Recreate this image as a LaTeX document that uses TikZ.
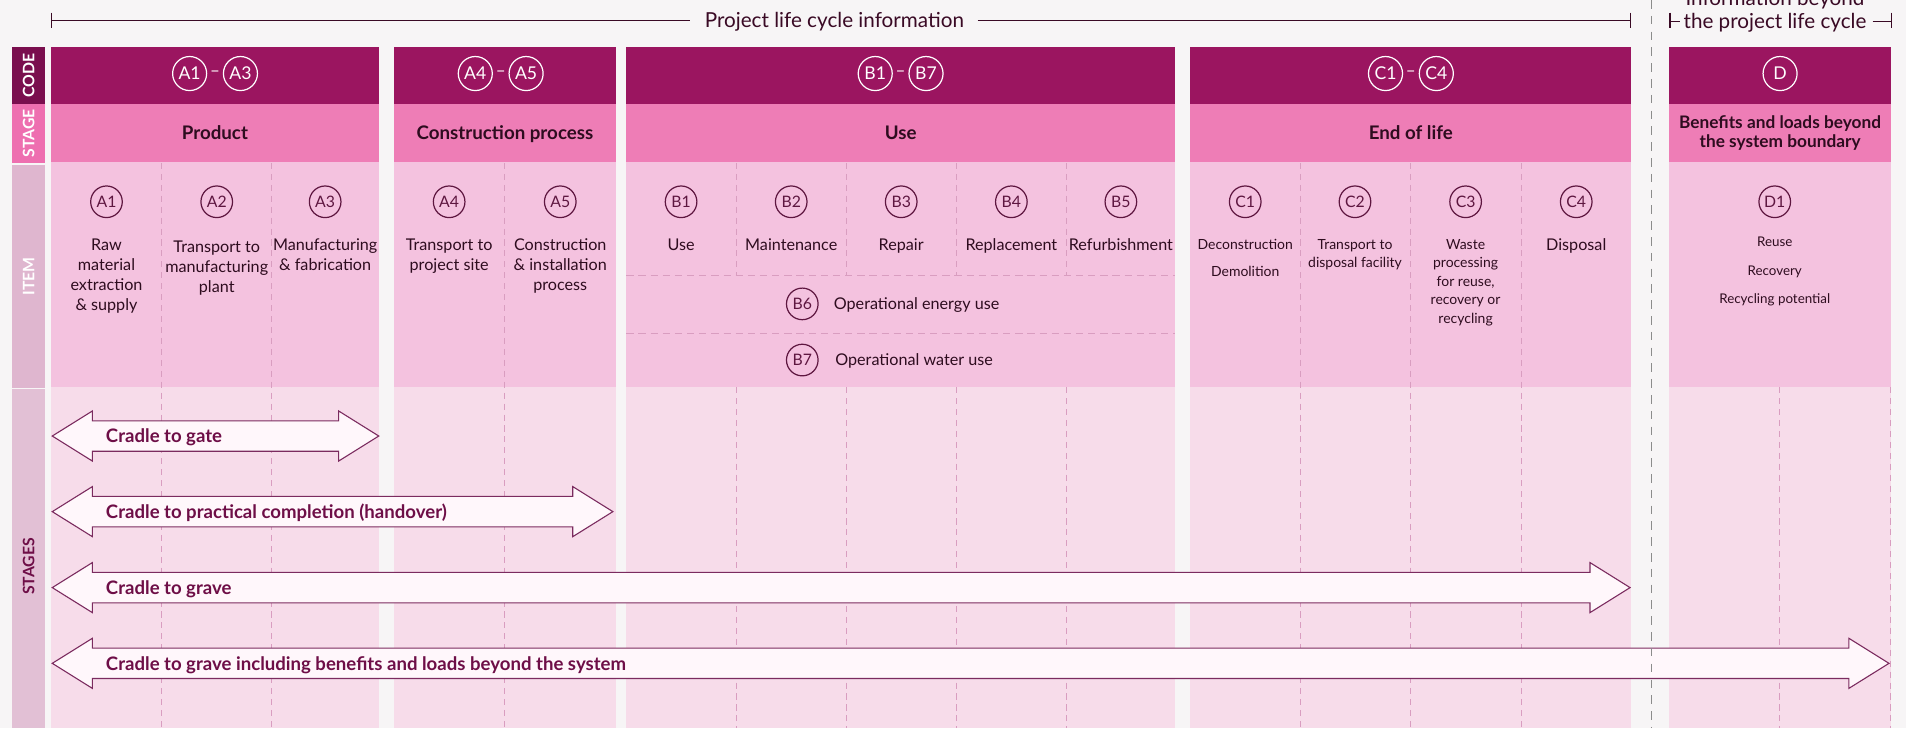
\documentclass[tikz,border=0pt]{standalone}
\usepackage{fontspec}
\setmainfont{Lato}
\usetikzlibrary{calc}

\definecolor{pagebg}{HTML}{F7F5F6}
\definecolor{codedark}{HTML}{7A0E4E}
\definecolor{coderow}{HTML}{9B1560}
\definecolor{stagerow}{HTML}{EE7DB6}
\definecolor{stagelabel}{HTML}{EE6FB0}
\definecolor{itemrow}{HTML}{F4C2DF}
\definecolor{itemlabel}{HTML}{DFB6CF}
\definecolor{stagesrow}{HTML}{F7DCEA}
\definecolor{stageslabel}{HTML}{E2C0D5}
\definecolor{ink}{HTML}{2E0C1F}
\definecolor{plum}{HTML}{6E0E47}
\definecolor{ringink}{HTML}{5E1640}
\definecolor{arrowfill}{HTML}{FFF7FB}
\definecolor{arrowline}{HTML}{7B2B5F}
\definecolor{divider}{HTML}{D99DC0}
\definecolor{boundary}{HTML}{8C8C8C}
\definecolor{rule}{HTML}{3A0A25}

% one coloured panel: code, stage, item and stages rows
\newcommand\lcapanel[2]{%
  \fill[coderow]   (#1,38.9)  rectangle (#2,85.6);
  \fill[stagerow]  (#1,85.6)  rectangle (#2,133.5);
  \fill[itemrow]   (#1,133.5) rectangle (#2,318.5);
  \fill[stagesrow] (#1,318.5) rectangle (#2,599);}
% dashed column divider
\newcommand\coldiv[3]{\draw[divline] (#1,#2) -- (#1,#3);}
% double-headed block arrow: left tip x, right tip x, centre y
\newcommand\stagearrow[3]{%
  \draw[arrowbody] (#1,#3) -- (#1+33,#3-20.6) -- (#1+33,#3-12.5)
    -- (#2-33,#3-12.5) -- (#2-33,#3-20.6) -- (#2,#3)
    -- (#2-33,#3+20.6) -- (#2-33,#3+12.5) -- (#1+33,#3+12.5)
    -- (#1+33,#3+20.6) -- cycle;}

\begin{document}
\begin{tikzpicture}[x=1pt,y=-1pt,
  codering/.style={circle, draw=white, line width=1pt, text=white,
    minimum size=28pt, inner sep=0pt, font=\fontsize{14.5}{14.5}\selectfont},
  itemring/.style={circle, draw=ringink, line width=1pt, text=ringink,
    minimum size=26pt, inner sep=0pt, font=\fontsize{13}{13}\selectfont},
  codedash/.style={text=white, inner sep=0pt, font=\fontsize{14}{14}\selectfont},
  stagetitle/.style={text=ink, inner sep=0pt, anchor=base,
    font=\bfseries\fontsize{15.4}{16}\selectfont},
  itemtext/.style={text=ink, align=center, inner sep=0pt, anchor=north,
    font=\fontsize{13.3}{16.5}\selectfont},
  smalltext/.style={text=ink, align=center, inner sep=0pt, anchor=north,
    font=\fontsize{11.5}{15.2}\selectfont},
  sidelabel/.style={rotate=90, inner sep=0pt, font=\bfseries\fontsize{13}{13}\selectfont},
  arrowlabel/.style={text=plum, inner sep=0pt, anchor=base west,
    font=\bfseries\fontsize{15.3}{15.3}\selectfont},
  bracketlabel/.style={text=rule, inner sep=0pt, anchor=base,
    font=\fontsize{17}{17}\selectfont},
  divline/.style={draw=divider, line width=0.8pt, dash pattern=on 5pt off 4pt},
  arrowbody/.style={fill=arrowfill, draw=arrowline, line width=0.9pt, line join=miter},
  bracket/.style={draw=rule, line width=0.9pt},
]
\useasboundingbox (0,0) rectangle (1568,599);
\clip (0,0) rectangle (1568,599);
\fill[pagebg] (0,0) rectangle (1568,599);

% ---- side labels -------------------------------------------------
\fill[codedark]    (10,38.9)  rectangle (37,85.6);
\fill[stagelabel]  (10,85.6)  rectangle (37,133.8);
\fill[itemlabel]   (10,135.7) rectangle (37,318.9);
\fill[stageslabel] (10,320)   rectangle (37,599);
\node[sidelabel, text=white] (lblcode)   at (23.5,62.2)  {CODE};
\node[sidelabel, text=white] (lblstage)  at (23.5,109.7) {STAGE};
\node[sidelabel, text=white] (lblitem)   at (23.5,227.3) {ITEM};
\node[sidelabel, text=plum]  (lblstages) at (23.5,466)   {STAGES};

% ---- panels ------------------------------------------------------
\lcapanel{42}{311.6}
\lcapanel{324}{506.8}
\lcapanel{515.2}{966.8}
\lcapanel{979.3}{1342}
\lcapanel{1373}{1555.8}

% ---- dividers ----------------------------------------------------
\foreach \x in {133.2,223.4,415}{\coldiv{\x}{134}{599}}
\foreach \x in {605.5,696.3,786.6,877.5}{\coldiv{\x}{134}{226.5}\coldiv{\x}{318.5}{599}}
\foreach \x in {1069.5,1160,1251.5}{\coldiv{\x}{134}{599}}
\foreach \x in {1464.3,1555.3}{\coldiv{\x}{318.5}{599}}
\draw[divline, dash pattern=on 6pt off 4pt] (515.2,226.5) -- (966.8,226.5);
\draw[divline, dash pattern=on 6pt off 4pt] (515.2,274) -- (966.8,274);

% ---- top brackets ------------------------------------------------
\coordinate (plcL) at (42,17);
\coordinate (plcR) at (1341.7,17);
\node[bracketlabel] (plc) at (686.4,22.5) {Project life cycle information};
\draw[bracket] (42,10.4) -- (42,23.3);
\draw[bracket] (1341.7,10.4) -- (1341.7,23.3);
\draw[bracket] (plcL) -- ($(plc.west |- plcL)+(-12,0)$);
\draw[bracket] ($(plc.east |- plcR)+(11,0)$) -- (plcR);

\coordinate (beyL) at (1373.8,17.4);
\coordinate (beyR) at (1556,17.4);
\node[bracketlabel] (bey1) at (1460.2,4.6) {Information beyond};
\node[bracketlabel] (bey2) at (1460.2,23.3) {the project life cycle};
\draw[bracket] (1373.8,10.4) -- (1373.8,23.3);
\draw[bracket] (1556,10.4) -- (1556,23.3);
\draw[bracket] (beyL) -- ($(bey2.west |- beyL)+(-3,0)$);
\draw[bracket] ($(bey2.east |- beyR)+(5,0)$) -- (beyR);

% ---- code row ----------------------------------------------------
\node[codering] (hA1) at (156,60.5) {A1};
\node[codering] (hA3) at (197.8,60.5) {A3};
\node[codedash] (dA) at ($(hA1)!0.5!(hA3)$) {–};
\node[codering] (hA4) at (391,60.5) {A4};
\node[codering] (hA5) at (432.8,60.5) {A5};
\node[codedash] (dA45) at ($(hA4)!0.5!(hA5)$) {–};
\node[codering] (hB1) at (720,60.5) {B1};
\node[codering] (hB7) at (761.8,60.5) {B7};
\node[codedash] (dB) at ($(hB1)!0.5!(hB7)$) {–};
\node[codering] (hC1) at (1139.8,60.5) {C1};
\node[codering] (hC4) at (1181.6,60.5) {C4};
\node[codedash] (dC) at ($(hC1)!0.5!(hC4)$) {–};
\node[codering] (hD) at (1464.4,60.5) {D};

% ---- stage row ---------------------------------------------------
\node[stagetitle] (sProduct) at (176.8,115.1) {Product};
\node[stagetitle] (sConstr)  at (415.4,115.1) {Construction process};
\node[stagetitle] (sUse)     at (741,115.1)   {Use};
\node[stagetitle] (sEnd)     at (1160.6,115.1){End of life};
\node[stagetitle, align=center, font=\bfseries\fontsize{14.2}{15.5}\selectfont]
  (sBeyond) at (1464.4,121.4) {Benefits and loads beyond\\the system boundary};

% ---- item row: circles -------------------------------------------
\foreach \n/\x in {A1/87.6,A2/178.3,A3/267.5,A4/369.5,A5/460.9,
                   B1/560.3,B2/650.9,B3/741.4,B4/832,B5/922.1,
                   C1/1024.4,C2/1114.7,C3/1205.7,C4/1296.7,D1/1460}
  {\node[itemring] (i\n) at (\x,166) {\n};}
\node[itemring] (iB6) at (660,250) {B6};
\node[itemring] (iB7) at (660,296.2) {B7};

% ---- item row: descriptions --------------------------------------
\node[itemtext] (tA1) at (87.6,196.1)  {Raw\\material\\extraction\\\& supply};
\node[itemtext] (tA2) at (178.3,197.6) {Transport to\\manufacturing\\plant};
\node[itemtext] (tA3) at (267.5,196.1) {Manufacturing\\\& fabrication};
\node[itemtext] (tA4) at (369.5,196.1) {Transport to\\project site};
\node[itemtext] (tA5) at (460.9,196.1) {Construction\\\& installation\\process};
\node[itemtext] (tB1) at (560.3,196.1) {Use};
\node[itemtext] (tB2) at (650.9,196.1) {Maintenance};
\node[itemtext] (tB3) at (741.4,196.1) {Repair};
\node[itemtext] (tB4) at (832,196.1)   {Replacement};
\node[itemtext] (tB5) at (922.1,196.1) {Refurbishment};
\node[itemtext, anchor=base west] (tB6) at (685.8,254.7) {Operational energy use};
\node[itemtext, anchor=base west] (tB7) at (687,300.9)   {Operational water use};
\node[smalltext] (tC1) at (1024.4,196.8) {Deconstruction\\[6.8pt]Demolition};
\node[smalltext] (tC2) at (1114.7,196.8) {Transport to\\disposal facility};
\node[smalltext] (tC3) at (1205.7,196.8) {Waste\\processing\\for reuse,\\recovery or\\recycling};
\node[itemtext]  (tC4) at (1296.7,196.1) {Disposal};
\node[smalltext, font=\fontsize{11}{23.3}\selectfont] (tD1) at (1460,195)
  {Reuse\\Recovery\\Recycling potential};

% ---- stage spans -------------------------------------------------
\stagearrow{43}{311.6}{358.7}
\stagearrow{43}{504.2}{420.9}
\stagearrow{43}{1341}{483.4}
\stagearrow{43}{1554}{545.7}
\node[arrowlabel] (aGate)    at (87,364.2) {Cradle to gate};
\node[arrowlabel] (aHand)    at (87,426.4) {Cradle to practical completion (handover)};
\node[arrowlabel] (aGrave)   at (87,488.9) {Cradle to grave};
\node[arrowlabel] (aBeyond)  at (87,551.2) {Cradle to grave including benefits and loads beyond the system};

% ---- system boundary ---------------------------------------------
\draw[draw=boundary, line width=1.1pt, dash pattern=on 7pt off 6pt] (1358.7,0) -- (1358.7,599);
\end{tikzpicture}
\end{document}
